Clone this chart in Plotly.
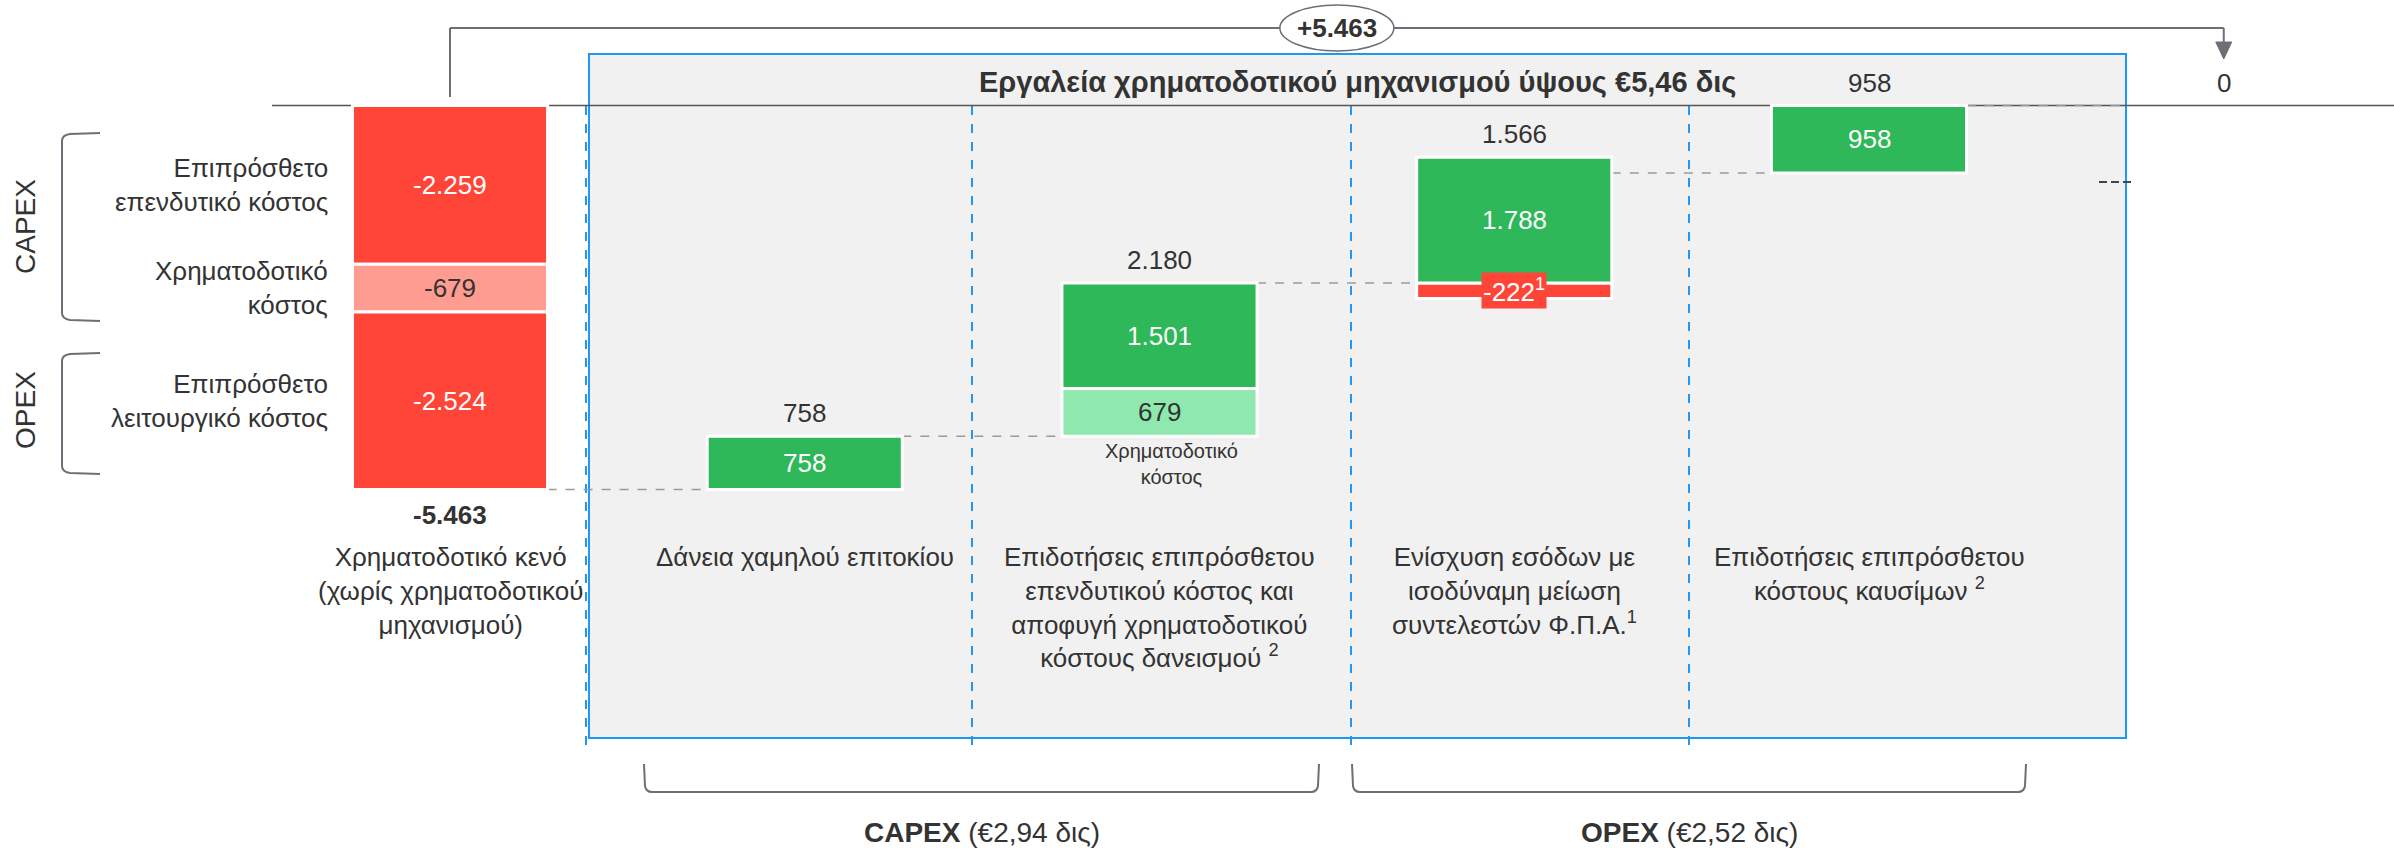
import plotly.graph_objects as go

W, H = 2394, 850

# ---------------- data ----------------
categories = [
    "Χρηματοδοτικό κενό<br>(χωρίς χρηματοδοτικού<br>μηχανισμού)",
    "Δάνεια χαμηλού επιτοκίου",
    "Επιδοτήσεις επιπρόσθετου<br>επενδυτικού κόστος και<br>αποφυγή χρηματοδοτικού<br>κόστους δανεισμού <sup>2</sup>",
    "Ενίσχυση εσόδων με<br>ισοδύναμη μείωση<br>συντελεστών Φ.Π.Α.<sup>1</sup>",
    "Επιδοτήσεις επιπρόσθετου<br>κόστους καυσίμων <sup>2</sup>",
]
gap_parts = [-2259, -679, -2524]
gap_part_labels = ["Επιπρόσθετο<br>επενδυτικό κόστος", "Χρηματοδοτικό<br>κόστος", "Επιπρόσθετο<br>λειτουργικό κόστος"]
gap_total = -5463
loans = 758
capex_fin_cost = 679
capex_subsidy = 1501
capex_total = 2180
vat_loss = -222
vat_gain = 1788
vat_total = 1566
fuel = 958
final_total = 0
title_text = "<b>Εργαλεία χρηματοδοτικού μηχανισμού ύψους €5,46 δις</b>"
capex_group = "<b>CAPEX</b> (€2,94 δις)"
opex_group = "<b>OPEX</b> (€2,52 δις)"
side_groups = ["CAPEX", "OPEX"]
fin_cost_note = "Χρηματοδοτικό<br>κόστος"

# ---------------- style ----------------
RED = "#FF4438"
PINK = "#FF9C91"
GREEN = "#2EB85A"
LGREEN = "#8FE9AF"
DARK = "#333333"
GREY = "#6E6E78"
BLUE = "#2196F3"
FONT = "Arial, Liberation Sans, sans-serif"
FS = 26

# axis scale (layout)
Y0_PX, PX_PER_UNIT = 105.5, 0.0703
X0_PX, COL_PX = 450.0, 354.75
BAR_W = 0.55


def px(x):
    return x / W


def py(y):
    return 1 - y / H


def fmt(v, sign=False):
    s = f"{abs(v):,}".replace(",", ".")
    if v < 0:
        return "-" + s
    return ("+" + s) if sign else s


# ---------------- segments ----------------
segs = []  # (x, base, value, color, textcolor)
base = 0
for v, c in zip(gap_parts, [RED, PINK, RED]):
    segs.append((0, base, v, c, "white" if c == RED else DARK))
    base += v
levels = [gap_total]
level = gap_total
segs.append((1, level, loans, GREEN, "white"))
level += loans
levels.append(level)
segs.append((2, level, capex_fin_cost, LGREEN, DARK))
segs.append((2, level + capex_fin_cost, capex_subsidy, GREEN, "white"))
level += capex_total
levels.append(level)
segs.append((3, level, vat_loss, RED, "white"))
segs.append((3, level, vat_gain, GREEN, "white"))
level += vat_total
levels.append(level)
segs.append((4, level, fuel, GREEN, "white"))
level += fuel
levels.append(level)

fig = go.Figure()
fig.add_trace(go.Bar(
    x=[s[0] for s in segs], y=[s[2] for s in segs], base=[s[1] for s in segs],
    width=BAR_W, marker=dict(color=[s[3] for s in segs], line=dict(color="white", width=3)),
    hoverinfo="skip", showlegend=False,
))

ann = []
shapes = []

# grey box + blue border
shapes.append(dict(type="rect", xref="paper", yref="paper", x0=px(589), x1=px(2126), y0=py(738), y1=py(54),
                   fillcolor="#F1F1F1", line=dict(color=BLUE, width=2), layer="below"))
# blue dashed separators
for xx in [586, 972, 1351, 1689]:
    shapes.append(dict(type="line", xref="paper", yref="paper", x0=px(xx), x1=px(xx), y0=py(106), y1=py(745),
                       line=dict(color=BLUE, width=2, dash="dash"), layer="below"))
# zero line
shapes.append(dict(type="line", xref="paper", yref="y", x0=px(272), x1=1, y0=0, y1=0,
                   line=dict(color="#555555", width=1.5), layer="below"))

# connectors
for i, lv in enumerate(levels):
    x0 = i + BAR_W / 2
    x1 = (i + 1 - BAR_W / 2) if i < 4 else (2126 - X0_PX) / COL_PX
    shapes.append(dict(type="line", xref="x", yref="y", x0=x0, x1=x1, y0=lv, y1=lv,
                       line=dict(color="#9A9A9A", width=1.5, dash="dash"), layer="below"))

# inside labels
for (x, b, v, c, tc) in segs:
    if v == vat_loss:
        ann.append(dict(x=x, y=b + v / 2, xref="x", yref="y", text=fmt(v) + "<sup>1</sup>", showarrow=False,
                        font=dict(family=FONT, size=FS, color="white"), bgcolor=RED, borderpad=1))
    else:
        ann.append(dict(x=x, y=b + v / 2, xref="x", yref="y", text=fmt(v), showarrow=False,
                        font=dict(family=FONT, size=FS, color=tc)))

# totals above columns
col_totals = [loans, capex_total, vat_total, fuel]
col_tops = [levels[1], levels[2], levels[2] + vat_gain, levels[4]]
for i, (t, top) in enumerate(zip(col_totals, col_tops)):
    ann.append(dict(x=i + 1, y=top, xref="x", yref="y", text=fmt(t), showarrow=False, yanchor="bottom",
                    yshift=6, font=dict(family=FONT, size=FS, color=DARK)))
ann.append(dict(x=5, y=final_total, xref="x", yref="y", text=fmt(final_total), showarrow=False, yanchor="bottom",
                yshift=6, font=dict(family=FONT, size=FS, color=DARK)))
ann.append(dict(x=0, y=gap_total, xref="x", yref="y", text="<b>" + fmt(gap_total) + "</b>", showarrow=False,
                yanchor="top", yshift=-8, font=dict(family=FONT, size=FS, color=DARK)))

# financing cost note under bar 2
ann.append(dict(x=2, y=levels[1], xref="x", yref="y", text=fin_cost_note, showarrow=False, yanchor="top",
                yshift=-2, xshift=12, font=dict(family=FONT, size=20, color=DARK)))

# category labels
for i, c in enumerate(categories):
    ann.append(dict(x=i, y=py(540), xref="x", yref="paper", text=c, showarrow=False, yanchor="top",
                    xanchor="center", align="center", font=dict(family=FONT, size=FS, color=DARK)))

# row labels on the left
b = 0
for v, lab in zip(gap_parts, gap_part_labels):
    ann.append(dict(x=px(330), y=b + v / 2, xref="paper", yref="y", text=lab, showarrow=False, xanchor="right",
                    yanchor="middle", align="right", font=dict(family=FONT, size=FS, color=DARK)))
    b += v

# side CAPEX / OPEX
for lab, yy in zip(side_groups, [227, 410]):
    ann.append(dict(x=px(25), y=py(yy), xref="paper", yref="paper", text=lab, textangle=-90, showarrow=False,
                    xanchor="center", yanchor="middle", font=dict(family=FONT, size=28, color=DARK)))


def ppath(pts):
    s = ""
    for cmd, *xy in pts:
        s += cmd
        for k in range(0, len(xy), 2):
            s += f" {px(xy[k]):.5f},{py(xy[k+1]):.5f}"
        s += " "
    return s


for y0, y1 in [(133, 321), (353, 474)]:
    shapes.append(dict(type="path", xref="paper", yref="paper", line=dict(color=GREY, width=2),
                       path=ppath([("M", 100, y0), ("L", 70, y0 + 1), ("Q", 62, y0 + 2, 62, y0 + 8),
                                   ("L", 62, y1 - 8), ("Q", 62, y1 - 2, 70, y1 - 1), ("L", 100, y1)])))
for x0, x1 in [(644, 1319), (1352, 2026)]:
    shapes.append(dict(type="path", xref="paper", yref="paper", line=dict(color=GREY, width=2),
                       path=ppath([("M", x0, 764), ("L", x0 + 1, 786), ("Q", x0 + 2, 792, x0 + 8, 792),
                                   ("L", x1 - 8, 792), ("Q", x1 - 2, 792, x1 - 1, 786), ("L", x1, 764)])))
ann.append(dict(x=(644 + 1319) / 2 / W, y=py(832), xref="paper", yref="paper", text=capex_group, showarrow=False,
                xanchor="center", yanchor="middle", font=dict(family=FONT, size=28, color=DARK)))
ann.append(dict(x=(1352 + 2026) / 2 / W, y=py(832), xref="paper", yref="paper", text=opex_group, showarrow=False,
                xanchor="center", yanchor="middle", font=dict(family=FONT, size=28, color=DARK)))

# title
ann.append(dict(x=px(1357), y=py(82), xref="paper", yref="paper", text=title_text, showarrow=False,
                xanchor="center", yanchor="middle", font=dict(family=FONT, size=29, color=DARK)))

# top bracket with arrow from gap column to final total
for (xa, ya, xb, yb) in [(0, 97, 0, 28), (0, 28, 5, 28), (5, 28, 5, 44)]:
    shapes.append(dict(type="line", xref="x", yref="paper", x0=xa, x1=xb, y0=py(ya), y1=py(yb),
                       line=dict(color=GREY, width=2)))
dx = 8 / COL_PX
shapes.append(dict(type="path", xref="x", yref="paper", fillcolor=GREY, line=dict(color=GREY, width=1),
                   path=f"M {5-dx},{py(42)} L {5+dx},{py(42)} L 5,{py(59)} Z"))
ex = 57 / COL_PX
shapes.append(dict(type="circle", xref="x", yref="paper", x0=2.5 - ex, x1=2.5 + ex, y0=py(51), y1=py(5),
                   fillcolor="white", line=dict(color=GREY, width=1.5)))
ann.append(dict(x=2.5, y=py(28), xref="x", yref="paper", text="<b>" + fmt(-gap_total, sign=True) + "</b>",
                showarrow=False, xanchor="center", yanchor="middle", font=dict(family=FONT, size=FS, color=DARK)))

# small dash marker
shapes.append(dict(type="line", xref="paper", yref="paper", x0=px(2099), x1=px(2134), y0=py(182), y1=py(182),
                   line=dict(color="#444444", width=2, dash="8px,4px")))

fig.update_layout(
    width=W, height=H, margin=dict(l=0, r=0, t=0, b=0, autoexpand=False),
    paper_bgcolor="white", plot_bgcolor="rgba(0,0,0,0)",
    xaxis=dict(range=[-X0_PX / COL_PX, (W - X0_PX) / COL_PX], visible=False, fixedrange=True),
    yaxis=dict(range=[(Y0_PX - H) / PX_PER_UNIT, Y0_PX / PX_PER_UNIT], visible=False, fixedrange=True),
    barmode="overlay", shapes=shapes, annotations=ann, showlegend=False,
)
fig.write_html("out.html", config={"displayModeBar": False},
               post_script="document.body.style.margin='0';document.body.style.overflow='hidden';")
